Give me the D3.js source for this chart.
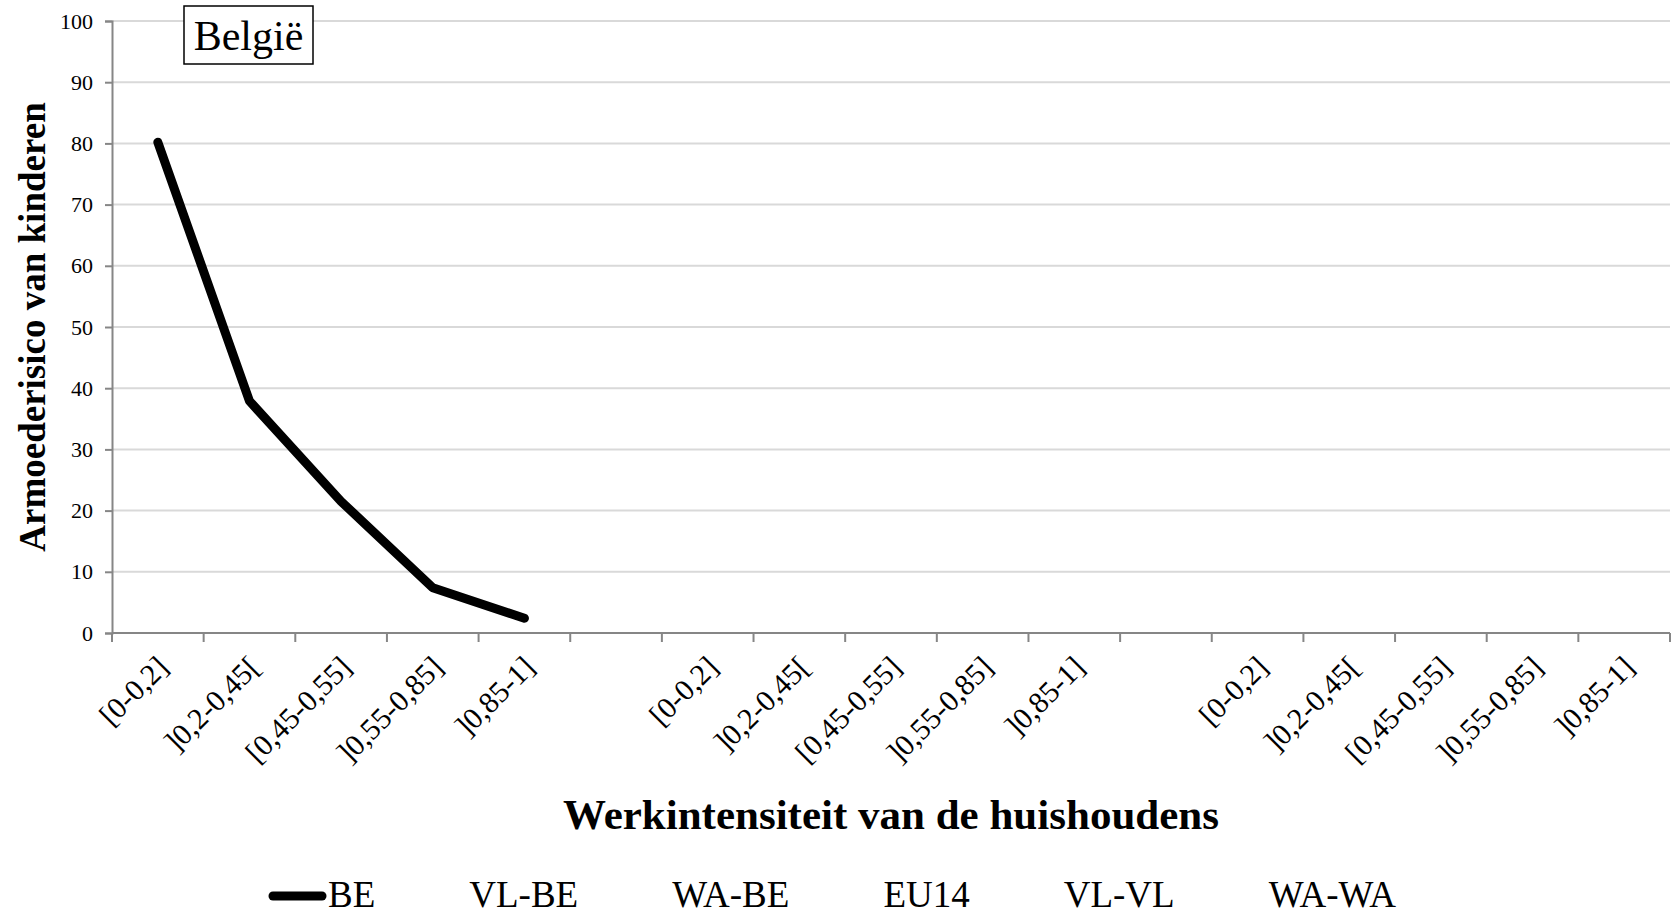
<!DOCTYPE html>
<meta charset="utf-8">
<style>
    body {
        margin: 0;
        background: #fff;
    }
    svg text {
        font-family: "Liberation Serif", "Times New Roman", serif;
    }
</style>
<script src="https://d3js.org/d3.v7.min.js"></script>
<div id="chart"></div>
<script>

    // categories of one block, repeated three times with an empty slot between
    var categories = ["[0-0,2]", "]0,2-0,45[", "[0,45-0,55]", "]0,55-0,85]", "]0,85-1]"];
    var labels = categories.concat([""], categories, [""], categories);

    // only the BE series is drawn in the first block
    var beValues = [80.2, 37.9, 21.5, 7.4, 2.4];

    var seriesNames = ["BE", "VL-BE", "WA-BE", "EU14", "VL-VL", "WA-WA"];
    var yTicks = [0, 10, 20, 30, 40, 50, 60, 70, 80, 90, 100];

    var W = 1675, H = 916;
    var margin = {top: 21, right: 5, bottom: 283, left: 112};
    var width = W - margin.left - margin.right,
        height = H - margin.top - margin.bottom;

    var svg = d3.select("#chart")
        .append("svg")
        .attr("width", W)
        .attr("height", H);

    var g = svg.append("g")
        .attr("transform", "translate(" + margin.left + "," + margin.top + ")");

    var x = d3.scaleBand()
        .domain(d3.range(labels.length))
        .range([0, width])
        .paddingInner(0)
        .paddingOuter(0);

    var y = d3.scaleLinear()
        .domain([0, 100])
        .range([height, 0]);

    // gridlines
    g.append("g")
        .selectAll("line")
        .data(yTicks.filter(function(d) { return d > 0; }))
        .enter()
        .append("line")
        .attr("x1", 0)
        .attr("x2", width)
        .attr("y1", function(d) { return y(d); })
        .attr("y2", function(d) { return y(d); })
        .attr("stroke", "#d9d9d9")
        .attr("stroke-width", 2);

    // y axis
    var yAxis = g.append("g")
        .call(d3.axisLeft(y).tickValues(yTicks).tickSize(7).tickPadding(12));
    yAxis.select(".domain").attr("stroke", "#868686").attr("stroke-width", 2);
    yAxis.selectAll(".tick line").attr("stroke", "#868686").attr("stroke-width", 2);
    yAxis.selectAll("text")
        .attr("fill", "#000")
        .style("font-family", "Liberation Serif")
        .style("font-size", "22px");

    // x axis: ticks sit between categories
    var xAxis = g.append("g")
        .attr("transform", "translate(0," + height + ")");
    xAxis.append("line")
        .attr("x1", 0).attr("x2", width)
        .attr("stroke", "#868686").attr("stroke-width", 2);
    var bounds = x.domain().map(function(d) { return x(d); }).concat([width]);
    xAxis.selectAll(".tk")
        .data(bounds)
        .enter()
        .append("line")
        .attr("class", "tk")
        .attr("x1", function(d) { return d; })
        .attr("x2", function(d) { return d; })
        .attr("y1", 0)
        .attr("y2", 9)
        .attr("stroke", "#868686")
        .attr("stroke-width", 2);

    xAxis.selectAll(".lbl")
        .data(labels)
        .enter()
        .append("text")
        .attr("class", "lbl")
        .attr("text-anchor", "end")
        .attr("transform", function(d, i) {
            return "translate(" + (x(i) + x.bandwidth() / 2 + 12) + ",36) rotate(-45)";
        })
        .style("font-size", "30px")
        .text(function(d) { return d; });

    // BE line
    var line = d3.line()
        .x(function(d, i) { return x(i) + x.bandwidth() / 2; })
        .y(function(d) { return y(d); });

    g.append("path")
        .datum(beValues)
        .attr("fill", "none")
        .attr("stroke", "#000")
        .attr("stroke-width", 9)
        .attr("stroke-linejoin", "round")
        .attr("stroke-linecap", "round")
        .attr("d", line);

    // België label box
    var box = svg.append("g");
    box.append("rect")
        .attr("x", 184).attr("y", 6)
        .attr("width", 129).attr("height", 58)
        .attr("fill", "#fff")
        .attr("stroke", "#000")
        .attr("stroke-width", 1.5);
    box.append("text")
        .attr("x", 248.5).attr("y", 50)
        .attr("text-anchor", "middle")
        .style("font-size", "42px")
        .text("België");

    // axis titles
    svg.append("text")
        .attr("x", margin.left + width / 2)
        .attr("y", 829)
        .attr("text-anchor", "middle")
        .style("font-size", "43px")
        .style("font-weight", "bold")
        .text("Werkintensiteit van de huishoudens");

    svg.append("text")
        .attr("transform", "translate(45," + (margin.top + height / 2) + ") rotate(-90)")
        .attr("text-anchor", "middle")
        .style("font-size", "37px")
        .style("font-weight", "bold")
        .text("Armoederisico van kinderen");

    // legend
    var legend = svg.append("g");
    var lx = 269;
    seriesNames.forEach(function(name, i) {
        if (i === 0) {
            legend.append("line")
                .attr("x1", lx + 4).attr("x2", lx + 53)
                .attr("y1", 896).attr("y2", 896)
                .attr("stroke", "#000")
                .attr("stroke-width", 9)
                .attr("stroke-linecap", "round");
        }
        var t = legend.append("text")
            .attr("x", lx + 59)
            .attr("y", 907)
            .style("font-size", "37px")
            .text(name);
        lx = lx + 59 + t.node().getComputedTextLength() + 35;
    });

</script>
